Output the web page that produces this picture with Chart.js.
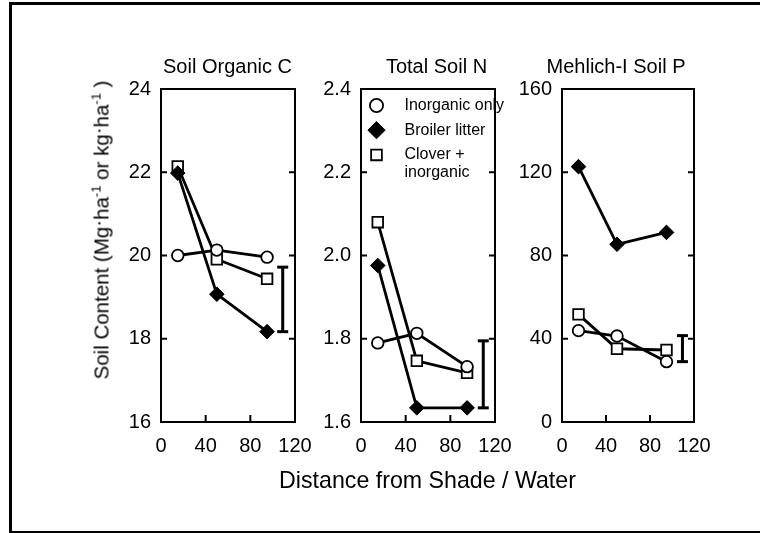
<!DOCTYPE html>
<html>
<head>
<meta charset="utf-8">
<script src="https://cdn.jsdelivr.net/npm/chart.js@4.4.1/dist/chart.umd.min.js"></script>
<style>
  html, body { margin: 0; padding: 0; background: #fff; }
  #wrap { position: relative; width: 760px; height: 533px; overflow: hidden;
          font-family: "Liberation Sans", Arial, sans-serif; color: #000; }
  canvas { position: absolute; left: 0; top: 0; }
  #frame { position: absolute; left: 9px; top: 2px; width: 800px; height: 526px;
           border-left: 3px solid #000; border-top: 3px solid #000; border-bottom: 2px solid #000; }
  .ptitle { position: absolute; top: 56px; font-size: 20px; line-height: 20px; white-space: nowrap;
            transform: translateX(-50%); }
  #xtitle { position: absolute; left: 427.5px; top: 469px; font-size: 23.2px; line-height: 23px;
            white-space: nowrap; transform: translateX(-50%); }
  #ytitle { position: absolute; left: 103px; top: 229.5px; font-size: 20.5px; line-height: 20px;
            white-space: nowrap; transform: translate(-50%, -50%) rotate(-90deg); }
  #ytitle .sup { font-size: 13px; position: relative; top: -8px; }
  #ytitle .dot { position: relative; top: -4px; }
</style>
</head>
<body>
<div id="wrap">
  <div id="frame"></div>
  <canvas id="c1" width="760" height="533"></canvas>
  <canvas id="c2" width="760" height="533"></canvas>
  <canvas id="c3" width="760" height="533"></canvas>
  <div class="ptitle" id="t1" style="left:227.5px"></div>
  <div class="ptitle" id="t2" style="left:436.5px"></div>
  <div class="ptitle" id="t3" style="left:616px"></div>
  <div id="xtitle"></div>
  <div id="ytitle">Soil Content (Mg<span class="dot">·</span>ha<span class="sup">-1</span> or kg<span class="dot">·</span>ha<span class="sup">-1</span> )</div>
</div>
<script>
// ---------------- data ----------------
const distance = [15, 50, 95];
const seriesNames = ['Inorganic only', 'Broiler litter', 'Clover + inorganic'];
const legendLines = [['Inorganic only'], ['Broiler litter'], ['Clover +', 'inorganic']];
const panelTitles = ['Soil Organic C', 'Total Soil N', 'Mehlich-I Soil P'];
const xAxisTitle = 'Distance from Shade / Water';
const xTicks = [0, 40, 80, 120];
const xTickLabels = ['0', '40', '80', '120'];

// Soil organic C (Mg/ha)
const socInorganic = [20.00, 20.13, 19.96];
const socBroiler   = [21.98, 19.07, 18.17];
const socClover    = [22.14, 19.91, 19.44];
const socErrX = 109;
const socErr = [19.72, 18.17];
const socTicks = [16, 18, 20, 22, 24];
const socTickLabels = ['16', '18', '20', '22', '24'];

// Total soil N (Mg/ha)
const tnInorganic = [1.790, 1.813, 1.733];
const tnBroiler   = [1.976, 1.634, 1.634];
const tnClover    = [2.080, 1.747, 1.718];
const tnErrX = 109.5;
const tnErr = [1.795, 1.634];
const tnTicks = [1.6, 1.8, 2.0, 2.2, 2.4];
const tnTickLabels = ['1.6', '1.8', '2.0', '2.2', '2.4'];

// Mehlich-I soil P (kg/ha)
const pInorganic = [43.9, 41.3, 29.0];
const pBroiler   = [122.7, 85.4, 91.1];
const pClover    = [51.7, 35.2, 34.6];
const pErrX = 109.5;
const pErr = [41.5, 29.0];
const pTicks = [0, 40, 80, 120, 160];
const pTickLabels = ['0', '40', '80', '120', '160'];

// ---------------- layout / style ----------------
const FONT = '"Liberation Sans", Arial, sans-serif';
const AREA_TOP = 89, AREA_BOTTOM = 422, CANVAS_W = 760, CANVAS_H = 533;
const Y_AXIS_W = 60, X_AXIS_H = 40;

document.getElementById('t1').textContent = panelTitles[0];
document.getElementById('t2').textContent = panelTitles[1];
document.getElementById('t3').textContent = panelTitles[2];
document.getElementById('xtitle').textContent = xAxisTitle;

const xy = (xs, ys) => xs.map((x, i) => ({ x: x, y: ys[i] }));

const markerStyles = [
  { pointStyle: 'circle',  pointRadius: 5.8, pointBorderWidth: 1.8, pointBackgroundColor: '#fff', legendRadius: 6.6 },
  { pointStyle: 'rectRot', pointRadius: 7.3, pointBorderWidth: 1,   pointBackgroundColor: '#000', legendRadius: 8.6 },
  { pointStyle: 'rect',    pointRadius: 7.5, pointBorderWidth: 1.8, pointBackgroundColor: '#fff', legendRadius: 7.6 }
];

const framePlugin = {
  id: 'frame',
  beforeDatasetsDraw(chart) {
    const { ctx, chartArea: a, scales } = chart;
    ctx.save();
    ctx.strokeStyle = '#000';
    ctx.lineWidth = 2;
    ctx.strokeRect(a.left, a.top, a.right - a.left, a.bottom - a.top);
    ctx.beginPath();
    scales.y.ticks.slice(1, -1).forEach(t => {
      const p = scales.y.getPixelForValue(t.value);
      ctx.moveTo(a.left, p); ctx.lineTo(a.left + 6, p);
      ctx.moveTo(a.right - 6, p); ctx.lineTo(a.right, p);
    });
    scales.x.ticks.slice(1, -1).forEach(t => {
      const p = scales.x.getPixelForValue(t.value);
      ctx.moveTo(p, a.bottom); ctx.lineTo(p, a.bottom - 7);
    });
    ctx.stroke();
    ctx.restore();
  }
};

const legendPlugin = {
  id: 'innerLegend',
  afterDatasetsDraw(chart) {
    const { ctx, chartArea: a } = chart;
    ctx.save();
    ctx.font = '16px ' + FONT;
    ctx.textBaseline = 'middle';
    ctx.textAlign = 'left';
    legendLines.forEach((lines, i) => {
      const ds = chart.data.datasets[i];
      const cx = a.left + 15.5;
      const cy = a.top + 16.5 + 24.7 * i;
      ctx.fillStyle = ds.pointBackgroundColor;
      ctx.strokeStyle = '#000';
      ctx.lineWidth = ds.pointBorderWidth;
      Chart.helpers.drawPoint(ctx, { pointStyle: ds.pointStyle, radius: markerStyles[i].legendRadius,
                                     borderWidth: ds.pointBorderWidth, rotation: 0 }, cx, cy);
      ctx.fillStyle = '#000';
      lines.forEach((txt, j) => ctx.fillText(txt, a.left + 43.5, cy + 18 * j));
    });
    ctx.restore();
  }
};

function makePanel(id, left, right, series, errX, err, ticks, tickLabels, withLegend) {
  const datasets = series.map((vals, i) => ({
    label: seriesNames[i],
    data: xy(distance, vals),
    showLine: true,
    borderColor: '#000',
    borderWidth: 2.8,
    pointBorderColor: '#000',
    pointStyle: markerStyles[i].pointStyle,
    pointRadius: markerStyles[i].pointRadius,
    pointHoverRadius: markerStyles[i].pointRadius,
    pointBorderWidth: markerStyles[i].pointBorderWidth,
    pointBackgroundColor: markerStyles[i].pointBackgroundColor
  }));
  datasets.push({
    label: 'LSD',
    data: xy([errX, errX], err),
    showLine: true,
    borderColor: '#000',
    borderWidth: 3,
    pointStyle: 'line',
    pointRadius: 5.5,
    pointBorderWidth: 3,
    pointBorderColor: '#000'
  });
  const tickFont = { family: FONT, size: 20, weight: 'normal' };
  return new Chart(document.getElementById(id), {
    type: 'scatter',
    data: { datasets },
    options: {
      responsive: false,
      animation: false,
      devicePixelRatio: 1,
      events: [],
      layout: { padding: { left: left - Y_AXIS_W, right: CANVAS_W - right,
                           top: AREA_TOP, bottom: CANVAS_H - X_AXIS_H - AREA_BOTTOM } },
      plugins: { legend: { display: false }, tooltip: { enabled: false }, title: { display: false } },
      scales: {
        x: {
          type: 'linear', min: xTicks[0], max: xTicks[xTicks.length - 1],
          afterBuildTicks: s => { s.ticks = xTicks.map(v => ({ value: v })); },
          afterFit: s => { s.height = X_AXIS_H; },
          grid: { display: false, drawTicks: false }, border: { display: false },
          ticks: { font: tickFont, color: '#000', padding: 12, maxRotation: 0, autoSkip: false,
                   callback: (v, i) => xTickLabels[i] }
        },
        y: {
          type: 'linear', min: ticks[0], max: ticks[ticks.length - 1],
          afterBuildTicks: s => { s.ticks = ticks.map(v => ({ value: v })); },
          afterFit: s => { s.width = Y_AXIS_W; },
          grid: { display: false, drawTicks: false }, border: { display: false },
          ticks: { font: tickFont, color: '#000', padding: 10, autoSkip: false,
                   callback: (v, i) => tickLabels[i] }
        }
      }
    },
    plugins: withLegend ? [framePlugin, legendPlugin] : [framePlugin]
  });
}

makePanel('c1', 161, 295, [socInorganic, socBroiler, socClover], socErrX, socErr, socTicks, socTickLabels, false);
makePanel('c2', 361, 495, [tnInorganic, tnBroiler, tnClover], tnErrX, tnErr, tnTicks, tnTickLabels, true);
makePanel('c3', 562, 694, [pInorganic, pBroiler, pClover], pErrX, pErr, pTicks, pTickLabels, false);
</script>
</body>
</html>
